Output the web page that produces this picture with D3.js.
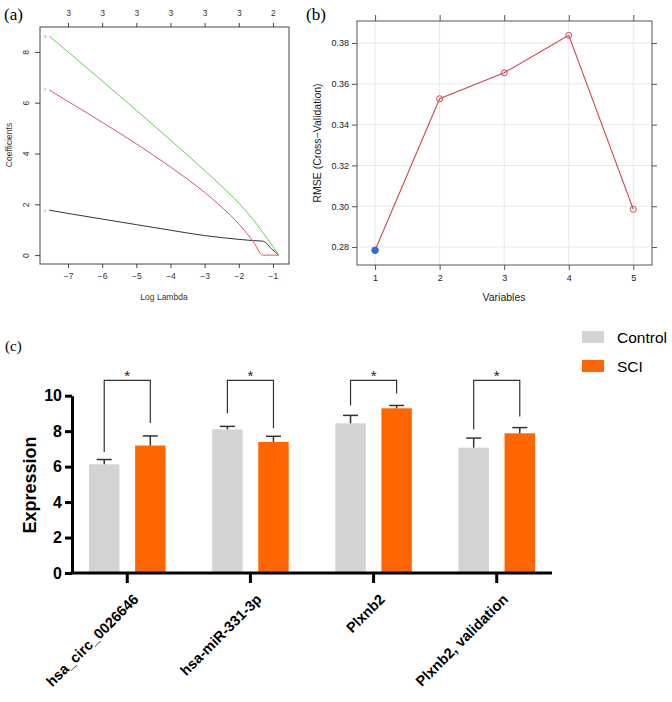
<!DOCTYPE html>
<html><head><meta charset="utf-8">
<script src="https://cdn.jsdelivr.net/npm/d3@7"></script>
<style>
html,body{margin:0;padding:0;background:#fff;}
svg{display:block;font-family:"Liberation Sans",Arial,Helvetica,sans-serif;}
</style></head>
<body>
<svg id="chart" width="672" height="702"></svg>
<script>
// ---------- Panel (a): lasso coefficient paths ----------
const logLambda = [-7.55, -7, -6, -5, -4, -3, -2.5, -2, -1.57, -1.3, -1.0, -0.83];
const coefVar3 = [8.62, 8.0, 6.86, 5.7, 4.53, 3.33, 2.71, 2.05, 1.38, 0.9, 0.34, 0];
const coefVar2 = [6.5, 6.05, 5.23, 4.38, 3.47, 2.47, 1.89, 1.23, 0.52, 0, 0, 0];
const coefVar1 = [1.77, 1.64, 1.42, 1.2, 0.98, 0.77, 0.69, 0.62, 0.57, 0.55, 0.2, 0];
const pathLabels = ["3", "2", "1"];
const pathColors = ["#61D04F", "#DF536B", "#333333"];
const lambdaTicks = [-7, -6, -5, -4, -3, -2, -1];
const dfLabels = ["3", "3", "3", "3", "3", "3", "2"];
const coefTicks = [0, 2, 4, 6, 8];

// ---------- Panel (b): RMSE vs variables ----------
const nVars = [1, 2, 3, 4, 5];
const rmse = [0.2784, 0.3527, 0.3654, 0.3838, 0.2985];
const rmseTicks = [0.28, 0.30, 0.32, 0.34, 0.36, 0.38];

// ---------- Panel (c): expression bars ----------
const genes = ["hsa_circ_0026646", "hsa-miR-331-3p", "Plxnb2", "Plxnb2, validation"];
const groups = ["Control", "SCI"];
const controlVals = [6.13, 8.10, 8.44, 7.07];
const controlErr = [0.27, 0.17, 0.45, 0.54];
const sciVals = [7.19, 7.39, 9.29, 7.88];
const sciErr = [0.54, 0.32, 0.16, 0.32];
const bracketTop = [10.86, 10.86, 10.86, 10.86];
const bracketLeftEnd = [6.83, 9.0, 9.45, 8.10];
const bracketRightEnd = [8.46, 8.16, 10.13, 8.83];
const sigLabels = ["*", "*", "*", "*"];
const exprTicks = [0, 2, 4, 6, 8, 10];
const groupColors = ["#D3D3D3", "#FF6600"];

const svg = d3.select("#chart");
const serif = '"Liberation Serif","DejaVu Serif",Times,serif';

// ===== Panel (a) =====
{
  const x = d3.scaleLinear().domain([-7.82, -0.53]).range([40, 289]);
  const y = d3.scaleLinear().domain([-0.35, 8.98]).range([264, 27]);
  const g = svg.append("g");
  const series = [coefVar3, coefVar2, coefVar1];
  const line = d3.line().x(d => x(d[0])).y(d => y(d[1])).curve(d3.curveMonotoneX);
  [2, 1, 0].forEach(i => {
    const pts = logLambda.map((l, j) => [l, series[i][j]]);
    g.append("path").attr("d", line(pts)).attr("fill", "none")
      .attr("stroke", pathColors[i]).attr("stroke-width", 1);
    g.append("text").attr("x", x(logLambda[0]) - 4).attr("y", y(series[i][0]) + 1.5)
      .attr("font-size", 4).attr("fill", "#777").attr("text-anchor", "middle").text(pathLabels[i]);
  });
  g.append("rect").attr("x", 40).attr("y", 27).attr("width", 249).attr("height", 237)
    .attr("fill", "none").attr("stroke", "#444").attr("stroke-width", 1);
  const style = a => {
    a.select(".domain").remove();
    a.attr("color", "#444");
    a.selectAll("text").attr("font-size", 8.5).attr("fill", "#333").attr("font-family", "Liberation Sans, Arial");
  };
  const bx = g.append("g").attr("transform", "translate(0,264)")
    .call(d3.axisBottom(x).tickValues(lambdaTicks).tickSize(4).tickPadding(5).tickFormat(d => "\u2212" + Math.abs(d)));
  style(bx);
  const tx = g.append("g").attr("transform", "translate(0,27)")
    .call(d3.axisTop(x).tickValues(lambdaTicks).tickSize(4).tickPadding(7).tickFormat((d, i) => dfLabels[i]));
  style(tx);
  const ly = g.append("g").attr("transform", "translate(40,0)")
    .call(d3.axisLeft(y).tickValues(coefTicks).tickSize(5).tickFormat(d3.format("d")));
  style(ly);
  ly.selectAll("text").attr("text-anchor", "middle").attr("x", 0).attr("dy", 0)
    .attr("transform", "translate(-11,0) rotate(-90)");
  g.append("text").attr("transform", "translate(12,145) rotate(-90)").attr("text-anchor", "middle")
    .attr("font-size", 8.5).attr("fill", "#333").text("Coefficients");
  g.append("text").attr("x", 164).attr("y", 300).attr("text-anchor", "middle")
    .attr("font-size", 8.5).attr("fill", "#333").text("Log Lambda");
  svg.append("text").attr("x", 4).attr("y", 20).attr("font-family", serif).attr("font-size", 17).text("(a)");
}

// ===== Panel (b) =====
{
  const x = d3.scaleLinear().domain([0.72, 5.29]).range([357, 652]);
  const y = d3.scaleLinear().domain([0.2712, 0.3908]).range([265, 21]);
  const g = svg.append("g");
  g.selectAll(".gx").data(nVars).join("line").attr("x1", d => x(d)).attr("x2", d => x(d))
    .attr("y1", 21).attr("y2", 265).attr("stroke", "#e8e8e8").attr("stroke-width", 1);
  g.selectAll(".gy").data(rmseTicks).join("line").attr("y1", d => y(d)).attr("y2", d => y(d))
    .attr("x1", 357).attr("x2", 652).attr("stroke", "#e8e8e8").attr("stroke-width", 1);
  g.append("rect").attr("x", 357).attr("y", 21).attr("width", 295).attr("height", 244)
    .attr("fill", "none").attr("stroke", "#555").attr("stroke-width", 1);
  const font = sel => sel.selectAll("text").attr("font-size", 9).attr("fill", "#222")
    .attr("font-family", "Liberation Sans, Arial");
  const ax1 = g.append("g").attr("transform", "translate(0,265)").call(d3.axisBottom(x).tickValues(nVars).tickSize(5).tickPadding(5).tickFormat(d3.format("d")));
  const ax2 = g.append("g").attr("transform", "translate(0,21)").call(d3.axisTop(x).tickValues(nVars).tickSize(6).tickFormat(""));
  const ay1 = g.append("g").attr("transform", "translate(357,0)").call(d3.axisLeft(y).tickValues(rmseTicks).tickSize(5).tickPadding(3).tickFormat(d3.format(".2f")));
  const ay2 = g.append("g").attr("transform", "translate(652,0)").call(d3.axisRight(y).tickValues(rmseTicks).tickSize(5).tickFormat(""));
  [ax1, ax2, ay1, ay2].forEach(a => { a.select(".domain").remove(); a.attr("color", "#555"); font(a); });
  const line = d3.line().x((d, i) => x(nVars[i])).y(d => y(d));
  g.append("path").attr("d", line(rmse)).attr("fill", "none").attr("stroke", "#D0484E").attr("stroke-width", 1.1);
  g.selectAll(".pt").data(rmse).join("circle")
    .attr("cx", (d, i) => x(nVars[i])).attr("cy", d => y(d)).attr("r", (d, i) => i === 0 ? 3.3 : 3)
    .attr("fill", (d, i) => i === 0 ? "#2F6FD6" : "none")
    .attr("stroke", (d, i) => i === 0 ? "#2F6FD6" : "#D0484E").attr("stroke-width", 1);
  g.append("text").attr("transform", "translate(321,143) rotate(-90)").attr("text-anchor", "middle")
    .attr("font-size", 10.5).attr("fill", "#222").text("RMSE (Cross\u2212Validation)");
  g.append("text").attr("x", 504).attr("y", 301).attr("text-anchor", "middle")
    .attr("font-size", 10.5).attr("fill", "#222").text("Variables");
  svg.append("text").attr("x", 306).attr("y", 20).attr("font-family", serif).attr("font-size", 17).text("(b)");
}

// ===== Panel (c) =====
{
  const x = d3.scaleBand().domain(genes).range([65.7, 558.3]);
  const sub = d3.scaleBand().domain(groups).range([-38.25, 38.25]).paddingInner(0.34);
  const y = d3.scaleLinear().domain([0, 10]).range([573, 395.7]);
  const color = d3.scaleOrdinal().domain(groups).range(groupColors);
  const g = svg.append("g");
  const cx = d => x(d) + x.bandwidth() / 2;
  const rows = [];
  genes.forEach((gn, i) => {
    rows.push({gene: gn, grp: "Control", v: controlVals[i], e: controlErr[i]});
    rows.push({gene: gn, grp: "SCI", v: sciVals[i], e: sciErr[i]});
  });
  g.selectAll(".bar").data(rows).join("rect")
    .attr("x", d => cx(d.gene) + sub(d.grp)).attr("width", sub.bandwidth())
    .attr("y", d => y(d.v)).attr("height", d => y(0) - y(d.v)).attr("fill", d => color(d.grp));
  rows.forEach(d => {
    const mx = cx(d.gene) + sub(d.grp) + sub.bandwidth() / 2;
    g.append("line").attr("x1", mx).attr("x2", mx).attr("y1", y(d.v)).attr("y2", y(d.v + d.e))
      .attr("stroke", "#333").attr("stroke-width", 1.5);
    g.append("line").attr("x1", mx - 7.5).attr("x2", mx + 7.5).attr("y1", y(d.v + d.e)).attr("y2", y(d.v + d.e))
      .attr("stroke", "#333").attr("stroke-width", 1.5);
  });
  genes.forEach((gn, i) => {
    const xl = cx(gn) + sub("Control") + sub.bandwidth() / 2;
    const xr = cx(gn) + sub("SCI") + sub.bandwidth() / 2;
    g.append("path").attr("d", `M${xl},${y(bracketLeftEnd[i])}V${y(bracketTop[i])}H${xr}V${y(bracketRightEnd[i])}`)
      .attr("fill", "none").attr("stroke", "#333").attr("stroke-width", 1.2);
    g.append("text").attr("x", (xl + xr) / 2).attr("y", y(bracketTop[i]) + 1).attr("text-anchor", "middle")
      .attr("font-size", 15).attr("fill", "#222").text(sigLabels[i]);
  });
  const ay = g.append("g").attr("transform", "translate(72,0)")
    .call(d3.axisLeft(y).tickValues(exprTicks).tickSize(7).tickSizeOuter(0).tickPadding(3));
  ay.attr("color", "#000");
  ay.select(".domain").attr("stroke-width", 3);
  ay.selectAll("line").attr("stroke-width", 3);
  ay.selectAll("text").attr("font-size", 16).attr("font-weight", "bold").attr("fill", "#000")
    .attr("font-family", "Liberation Sans, Arial");
  g.append("line").attr("x1", 70.5).attr("x2", 552).attr("y1", 573).attr("y2", 573)
    .attr("stroke", "#000").attr("stroke-width", 3);
  g.selectAll(".xt").data(genes).join("line").attr("x1", d => cx(d)).attr("x2", d => cx(d))
    .attr("y1", 573).attr("y2", 583).attr("stroke", "#000").attr("stroke-width", 3);
  g.selectAll(".xl").data(genes).join("text")
    .attr("transform", d => `translate(${cx(d) + 5},${593}) rotate(-45)`)
    .attr("text-anchor", "end").attr("dy", "0.7em")
    .attr("font-size", 14.5).attr("font-weight", "bold").attr("fill", "#000").text(d => d);
  g.append("text").attr("transform", "translate(36,485) rotate(-90)").attr("text-anchor", "middle")
    .attr("font-size", 18).attr("font-weight", "bold").attr("fill", "#000").text("Expression");
  groups.forEach((gr, i) => {
    g.append("rect").attr("x", 582).attr("y", 331 + i * 29).attr("width", 22).attr("height", 12).attr("fill", groupColors[i]);
    g.append("text").attr("x", 617).attr("y", 343 + i * 29).attr("font-size", 15.5).attr("fill", "#000").text(gr);
  });
  svg.append("text").attr("x", 5).attr("y", 351).attr("font-family", serif).attr("font-size", 15).text("(c)");
}
</script>
</body></html>
